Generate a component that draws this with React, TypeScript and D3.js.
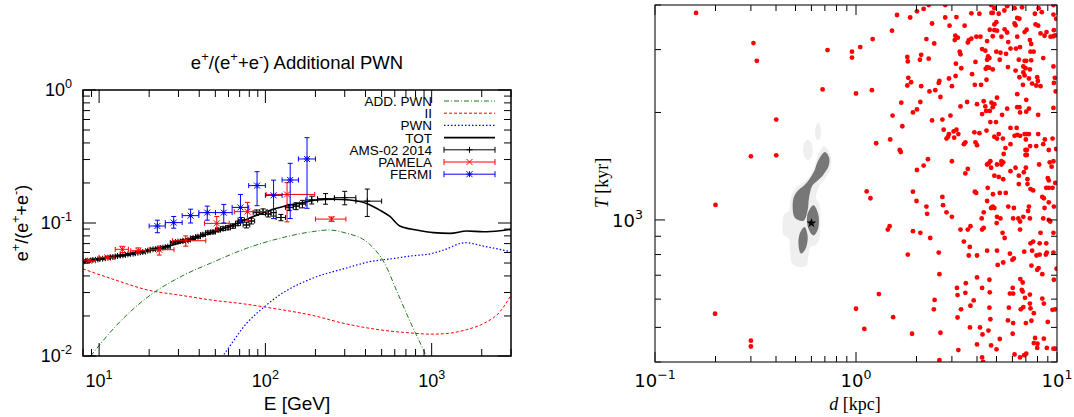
import React from "react";
import * as d3 from "d3";

// ---------------- left panel: e+/(e+ + e-) with an additional PWN ----------------
// model curves, [E (GeV), positron fraction]
const addPwnCurve = [[8.9,0.0100],[12.5,0.0166],[19.7,0.0279],[31,0.0395],[49,0.0511],[77,0.0645],[122,0.0767],[192,0.0861],[240,0.0886],[305,0.0840],[415,0.0708],[521,0.0498],[625,0.0296],[750,0.0176],[901,0.0108],[960,0.0090]];
const secondaryCurve = [[8,0.0452],[12.5,0.0373],[19.7,0.0313],[31,0.0286],[49,0.0262],[77,0.0245],[100,0.0233],[122,0.0224],[192,0.0202],[302,0.0175],[476,0.0158],[750,0.0149],[986,0.0146],[1183,0.0147],[1626,0.0158],[2042,0.0175],[2564,0.0214],[3000,0.0286]];
const pwnCurve = [[50,0.0085],[55.4,0.0100],[77.1,0.0176],[100,0.0238],[122,0.0288],[192,0.0384],[302,0.0456],[425,0.0512],[598,0.0542],[750,0.0565],[1000,0.0590],[1183,0.0627],[1592,0.0711],[2042,0.0671],[3000,0.0608]];
const totCurve = [[8,0.052],[10,0.0542],[16,0.0592],[25.3,0.0664],[40.2,0.0789],[63.8,0.0966],[101,0.1217],[128,0.133],[161,0.1406],[203,0.149],[256,0.151],[322,0.149],[420,0.138],[488,0.125],[561,0.112],[644,0.095],[812,0.0886],[1024,0.0846],[1290,0.0836],[1625,0.087],[2047,0.086],[2580,0.0875],[3000,0.0896]];

// AMS-02 2014: [E, fraction, error, Emin, Emax]
const ams02 = [
  [7.98,0.0512,0.0008,7.8,8.2],[8.55,0.0521,0.0008,8.3,8.8],[9.17,0.0527,0.0008,8.9,9.5],[9.83,0.0533,0.0008,9.5,10.1],
  [10.5,0.0539,0.0008,10.1,10.9],[11.3,0.0548,0.0008,10.9,11.7],[12.1,0.0555,0.0009,11.7,12.5],[12.9,0.0565,0.0009,12.5,13.4],
  [13.9,0.0571,0.0009,13.4,14.4],[14.9,0.0581,0.001,14.4,15.4],[16.0,0.0588,0.001,15.4,16.5],[17.1,0.0598,0.001,16.5,17.7],
  [18.3,0.0605,0.0011,17.7,19.0],[19.6,0.0619,0.0011,19.0,20.3],[21.1,0.0634,0.0012,20.3,21.8],[22.6,0.0641,0.0012,21.8,23.4],
  [24.2,0.0653,0.0013,23.4,25.0],[25.9,0.0664,0.0014,25.0,26.8],[27.8,0.0711,0.0015,26.8,28.8],[29.8,0.0724,0.0016,28.8,30.8],
  [31.9,0.0732,0.0017,30.8,33.0],[34.2,0.0745,0.0018,33.0,35.4],[36.7,0.0771,0.0019,35.4,38.0],[39.3,0.0789,0.002,38.0,40.7],
  [42.1,0.0817,0.0022,40.7,43.6],[45.1,0.0846,0.0024,43.6,46.7],[48.4,0.0856,0.0026,46.7,50.1],[51.9,0.0886,0.0028,50.1,53.7],
  [55.6,0.0907,0.003,53.7,57.6],[59.6,0.0922,0.0033,57.6,61.7],[63.8,0.0949,0.0036,61.7,66.1],[68.4,0.0994,0.004,66.1,70.8],
  [71.6,0.1054,0.0045,68.5,74.8],[76.9,0.0966,0.0048,73.5,80.5],[82.4,0.1035,0.0052,78.8,86.2],[88.3,0.1197,0.0055,84.4,92.4],
  [96.8,0.1217,0.006,92.4,101],[104,0.117,0.006,100,108],[112,0.1197,0.007,108,116],[124,0.110,0.006,116,132],
  [139,0.131,0.007,132,147],[153,0.134,0.008,147,160],[167,0.139,0.009,160,175],[190,0.149,0.010,175,206],
  [230,0.1524,0.014,206,260],[300,0.155,0.018,260,350],[410,0.146,0.034,350,500],
];
// PAMELA: [E, fraction, low, high, Emin, Emax]
const pamela = [
  [8.7,0.052,0.051,0.053,8.0,9.5],[11.2,0.0552,0.054,0.0565,10.0,12.3],[13.8,0.0634,0.060,0.0668,12.5,15.0],
  [17.2,0.0619,0.059,0.065,15.5,19.0],[23.0,0.063,0.0574,0.067,20.0,28.2],[33.2,0.0736,0.067,0.080,27.6,43.8],
  [51,0.0994,0.0886,0.112,43,60.6],[78,0.1217,0.104,0.143,65,103],[135,0.164,0.102,0.201,101,198],[250,0.107,0.103,0.111,200,305],
];
// FERMI: [E, fraction, low, high, Emin, Emax]
const fermi = [
  [22.4,0.0949,0.0845,0.105,20,25],[28.1,0.1007,0.0914,0.112,25,31.6],[35.5,0.1136,0.100,0.127,31.6,39.8],
  [44.7,0.1197,0.105,0.134,39.8,50.1],[56.2,0.1197,0.100,0.138,50.1,63.1],[70.8,0.131,0.100,0.164,63.1,79.4],
  [89.1,0.191,0.135,0.243,79.4,100],[112,0.1615,0.108,0.210,100,126],[141,0.2105,0.108,0.281,126,158],[178,0.303,0.129,0.438,158,200],
];
const legendLabels = ["ADD. PWN", "II", "PWN", "TOT", "AMS-02 2014", "PAMELA", "FERMI"];

// ---------------- right panel: pulsars, d [kpc] vs T [kyr] ----------------
const pulsars = [
  [0.16,3800],[0.309,3130],[0.321,2790],[0.722,2990],[0.955,2960],[0.955,2850],[1.05,3050],[0.682,2320],[1.00,2260],
  [0.401,1910],[0.300,1507],[0.401,1517],[0.200,1102],[1.13,1202],[0.199,546],[0.300,459],[0.300,442],[1.00,564],[1.10,495],
  [2.30,4000],[2.78,4000],[4.70,4000],[4.88,3920],[5.65,3970],[6.15,3920],[6.70,3940],[8.10,3920],[9.60,4000],
  [2.01,3840],[2.17,3900],[5.47,3860],[8.40,3820],[4.72,3800],[1.60,3750],[1.86,3690],[2.78,3690],[3.16,3700],[3.75,3790],
  [4.11,3780],[4.79,3800],[5.13,3780],[6.34,3680],[6.50,3660],[7.76,3780],[9.60,3760],[9.90,3660],
  [2.39,3550],[2.92,3500],[3.47,3500],[4.88,3530],[4.99,3580],[6.15,3550],[6.22,3510],[7.82,3530],[8.06,3500],
  [1.51,3390],[3.12,3280],[3.21,3240],[3.10,3190],[3.64,3190],[3.75,3220],[3.97,3260],[4.16,3260],[4.63,3410],[4.88,3400],
  [5.03,3390],[5.49,3420],[5.65,3350],[4.79,3270],[5.29,3260],[6.34,3260],[6.90,3360],[7.06,3410],[8.28,3330],[8.67,3280],
  [8.87,3360],[9.29,3260],[9.60,3270],[9.80,3290],[9.65,3400],
  [1.21,3210],[2.24,3210],[2.45,3120],[3.60,3140],[4.49,3170],[5.72,3150],[7.33,3190],[7.44,3110],
  [6.25,3020],[6.55,3050],[7.38,2960],[7.65,2960],[4.24,3010],[4.40,2980],[4.99,2960],[5.23,2940],[5.58,2920],[5.87,3020],
  [3.28,2960],[3.31,2910],[1.80,2860],[2.11,2900],[2.08,2810],[1.81,2780],[2.30,2830],[3.93,2770],[4.54,2870],[4.61,2840],
  [4.49,2810],[5.19,2810],[6.46,2810],[6.90,2790],[7.03,2790],[7.44,2800],[8.54,2840],
  [3.14,2740],[3.34,2660],[4.49,2680],[4.59,2670],[4.42,2650],[4.79,2640],[5.70,2680],[6.22,2620],[6.80,2690],[6.97,2660],
  [7.33,2640],[9.60,2690],
  [1.20,2310],[1.82,2500],[1.88,2430],[1.80,2380],[2.11,2370],[2.60,2450],[2.58,2420],[2.90,2490],[3.13,2530],[3.78,2560],
  [4.46,2470],[3.90,2390],[4.19,2390],[3.00,2370],[2.48,2310],[2.32,2290],[2.63,2210],
  [6.50,2510],[6.80,2590],[6.90,2540],[7.25,2490],[7.97,2510],[8.03,2450],[7.52,2410],[7.88,2380],[8.28,2370],[9.75,2500],
  [9.65,2420],[9.85,2290],[6.34,2250],[6.77,2390],
  [1.68,2130],[2.09,2140],[2.01,2040],[1.92,2000],[1.52,1960],[2.39,1900],[2.69,1910],[2.95,1960],[3.31,2080],[3.57,2140],
  [4.00,2110],[4.32,2150],[4.40,2080],[4.72,2130],[4.88,2110],[4.79,2070],[5.03,2200],[4.24,1980],[4.44,2020],[4.63,2020],
  [5.65,2050],[6.34,2070],[6.50,2070],[7.03,2170],[7.25,2050],[6.55,2000],[7.03,2010],[5.33,1970],[8.06,1970],[9.60,2060],
  [4.66,1880],[4.97,1880],
  [1.70,1830],[2.73,1790],[3.06,1770],[3.16,1790],[2.90,1740],[2.87,1710],[2.82,1690],[3.08,1700],[3.23,1740],[3.88,1760],
  [4.11,1750],[4.46,1780],[5.13,1740],[4.88,1710],[5.03,1690],[5.38,1690],[5.87,1810],[6.30,1810],[6.15,1720],[6.34,1730],
  [6.55,1720],[6.90,1740],[7.06,1740],[7.25,1740],[8.06,1740],[9.50,1690],[7.00,1680],[1.26,1640],[1.48,1680],[3.50,1650],
  [3.44,1630],[3.93,1650],[4.00,1620],[5.87,1630],[5.54,1590],[7.35,1610],[7.88,1610],[8.54,1630],[8.70,1680],[6.97,1570],
  [7.08,1570],[6.97,1520],[7.08,1520],[9.10,1570],[9.90,1580],[1.65,1570],[1.67,1550],[5.43,1530],[2.28,1480],[3.00,1460],
  [4.66,1460],[4.57,1440],[4.49,1430],[5.03,1430],[5.29,1460],[5.40,1450],[5.29,1430],[6.22,1400],[7.00,1400],[8.15,1430],
  [9.20,1450],[9.60,1460],[9.40,1410],[2.17,1420],[2.01,1380],[3.60,1390],[3.50,1350],[4.70,1400],[5.87,1370],[6.84,1360],
  [4.88,1330],[5.13,1320],[5.40,1300],[6.46,1330],[7.13,1300],[9.00,1310],[9.10,1290],[9.80,1270],[6.46,1260],[7.13,1260],
  [8.84,1230],[9.10,1230],[9.50,1230],[7.38,1220],[7.61,1210],[4.52,1230],[1.92,1200],[3.90,1200],[3.96,1190],[5.19,1190],
  [5.56,1190],[4.80,1180],[1.18,1150],[2.00,1130],[2.69,1160],[4.49,1130],[8.45,1160],[8.60,1150],[9.10,1120],[2.71,1100],
  [2.24,1090],[4.70,1080],[4.79,1090],[4.88,1080],[5.72,1090],[6.10,1080],[7.25,1090],[7.18,1060],[8.67,1080],[9.65,1090],
  [2.26,1040],[2.82,1050],[3.00,1020],[4.32,1050],[5.03,1020],[5.23,1010],[4.22,1010],[6.05,1010],[6.42,1010],[6.55,990],
  [6.80,1020],[7.33,1010],[8.54,1010],[9.10,1000],[9.25,990],[5.01,980],[1.47,960],[1.44,940],[1.92,930],[2.09,920],
  [2.34,890],[3.31,940],[3.60,940],[3.71,960],[4.24,940],[4.32,950],[5.36,920],[5.49,890],[6.55,940],[8.28,920],
  [9.60,920],[3.44,870],[7.61,870],[7.38,860],[8.20,860],[8.84,860],
  [3.68,840],[1.81,800],[2.58,810],[3.64,795],[4.00,795],[4.49,820],[5.03,820],[5.83,805],[6.00,773],[6.10,780],
  [6.87,815],[7.52,820],[7.91,795],[8.20,800],[8.80,800],[8.90,810],[9.60,810],[9.95,730],[5.07,748],[5.40,760],
  [7.46,745],[7.97,725],[8.10,733],[8.45,705],[2.60,705],[4.00,690],[9.65,680],[6.57,683],[6.75,668],[3.52,665],
  [3.18,645],[4.24,645],[4.61,680],[6.02,645],[1.30,620],[3.20,616],[3.50,625],[4.63,627],[5.83,622],[6.05,622],
  [6.68,637],[6.75,630],[6.93,605],[7.33,618],[8.45,602],[8.60,583],[2.46,597],[3.85,595],[2.44,562],[3.33,562],
  [3.71,575],[4.61,568],[5.76,568],[6.60,562],[6.80,570],[7.33,583],[7.38,565],[7.67,548],[9.50,560],[9.80,562],
  [1.53,534],[3.20,533],[4.66,527],[5.70,523],[6.05,514],[7.00,514],[7.46,522],[9.00,518],[1.90,480],[2.63,483],
  [3.69,500],[4.14,500],[4.56,490],[4.26,478],[6.02,480],[5.19,464],[7.78,467],[8.60,465],[7.67,452],[8.00,450],
  [4.00,448],[4.70,445],[7.97,438],[8.90,438],[9.60,436],[9.80,436],[3.23,432],[5.00,434],[6.15,420],[6.55,412],
  [6.87,418],[7.03,422],[4.24,412],[4.29,400],[2.60,405],
];
// likelihood regions, outlines as [d, T]
const contourLight = [
  [[0.695,1609],[0.745,1524],[0.745,1383],[0.695,1296],[0.655,1241],[0.632,1151],[0.655,1114],[0.665,1022],[0.655,878],[0.630,850],[0.595,841],[0.578,788],[0.568,747],[0.528,737],[0.482,755],[0.470,823],[0.462,888],[0.436,907],[0.432,989],[0.442,1044],[0.463,1056],[0.476,1163],[0.503,1228],[0.543,1268],[0.588,1324],[0.623,1413],[0.648,1524]],
  [[0.651,1879],[0.669,1793],[0.664,1699],[0.644,1673],[0.627,1735],[0.632,1832]],
  [[0.574,1680],[0.604,1627],[0.606,1524],[0.580,1469],[0.553,1507],[0.548,1609]],
];
const contourDark = [
  [[0.700,1550],[0.735,1495],[0.730,1413],[0.685,1335],[0.645,1290],[0.608,1250],[0.590,1189],[0.582,1138],[0.575,1067],[0.548,995],[0.496,1015],[0.484,1090],[0.490,1155],[0.512,1205],[0.553,1250],[0.586,1300],[0.620,1372],[0.648,1465]],
  [[0.615,1100],[0.648,1040],[0.648,945],[0.615,905],[0.580,945],[0.574,1040]],
  [[0.555,955],[0.575,897],[0.560,828],[0.532,805],[0.517,860],[0.527,920]],
];
const bestFit = [0.6, 980];

const SANS = "'Liberation Sans', Arial, Helvetica, sans-serif";
const DEJAVU = "'DejaVu Sans', sans-serif";
const SERIF = "'Liberation Serif', 'DejaVu Serif', serif";

function Rich({ x, y, parts, size, anchor = "middle", transform = undefined, family = SANS }) {
  let up = false;
  return (
    <text x={x} y={y} fontSize={size} textAnchor={anchor} transform={transform} fontFamily={family} fill="#000">
      {parts.map(([t, sup], i) => {
        let dy = 0;
        if (sup && !up) { dy = -0.42 * size; up = true; }
        else if (!sup && up) { dy = 0.42 * size; up = false; }
        return <tspan key={i} dy={dy} fontSize={sup ? size * 0.7 : size}>{t}</tspan>;
      })}
    </text>
  );
}

function logTicks(lo, hi) {
  const out = [];
  for (let p = -3; p <= 4; p++) {
    for (let k = 1; k <= 9; k++) {
      const v = k * Math.pow(10, p);
      if (v >= lo * 0.999 && v <= hi * 1.001) out.push({ v, major: k === 1 });
    }
  }
  return out;
}

function Marker({ x, y, kind, color, s = 3 }) {
  const segs = [];
  if (kind === "+" || kind === "*") segs.push([x - s, y, x + s, y], [x, y - s, x, y + s]);
  if (kind === "x" || kind === "*") segs.push([x - s, y - s, x + s, y + s], [x - s, y + s, x + s, y - s]);
  return <g>{segs.map((l, i) => <line key={i} x1={l[0]} y1={l[1]} x2={l[2]} y2={l[3]} stroke={color} strokeWidth={1} />)}</g>;
}

function ErrorPoints({ rows, color, kind, xs, ys }) {
  const c = 2.5;
  return (
    <g stroke={color} strokeWidth={1} fill="none">
      {rows.map((r, i) => {
        const x = xs(r.e), y = ys(r.v), yl = ys(r.lo), yh = ys(r.hi), xl = xs(r.eLo), xh = xs(r.eHi);
        return (
          <g key={i}>
            <line x1={x} y1={yl} x2={x} y2={yh} />
            <line x1={x - c} y1={yl} x2={x + c} y2={yl} />
            <line x1={x - c} y1={yh} x2={x + c} y2={yh} />
            <line x1={xl} y1={y} x2={xh} y2={y} />
            <line x1={xl} y1={y - c} x2={xl} y2={y + c} />
            <line x1={xh} y1={y - c} x2={xh} y2={y + c} />
            <Marker x={x} y={y} kind={kind} color={color} />
          </g>
        );
      })}
    </g>
  );
}

export default function App() {
  // left panel scales
  const xL = d3.scaleLog().domain([8, 3000]).range([83, 511]);
  const yL = d3.scaleLog().domain([0.01, 1]).range([356, 90]);
  const curve = d3.line().x((d) => xL(d[0])).y((d) => yL(d[1])).curve(d3.curveMonotoneX);

  const amsRows = ams02.map((r) => ({ e: r[0], v: r[1], lo: r[1] - r[2], hi: r[1] + r[2], eLo: r[3], eHi: r[4] }));
  const pamRows = pamela.map((r) => ({ e: r[0], v: r[1], lo: r[2], hi: r[3], eLo: r[4], eHi: r[5] }));
  const ferRows = fermi.map((r) => ({ e: r[0], v: r[1], lo: r[2], hi: r[3], eLo: r[4], eHi: r[5] }));

  const xTicksL = logTicks(8, 3000);
  const yTicksL = logTicks(0.01, 1);

  // right panel scales
  const xR = d3.scaleLog().domain([0.1, 10]).range([655, 1057]);
  const yR = d3.scaleLog().domain([400, 4000]).range([362, 5]);
  const blob = d3.line().x((d) => xR(d[0])).y((d) => yR(d[1])).curve(d3.curveCatmullRomClosed.alpha(0.5));
  const xTicksR = logTicks(0.1, 10);
  const yTicksR = logTicks(400, 4000);

  const legY = (i) => 101 + i * 12.2;
  const legendStyle = [
    { color: "#1e7b1e", dash: "5,2,1,2", w: 1 },
    { color: "#ff0000", dash: "3,2", w: 1 },
    { color: "#0000ff", dash: "1.5,2", w: 1.2 },
    { color: "#000", dash: null, w: 1.6 },
    { color: "#000", err: "+" },
    { color: "#ff0000", err: "x" },
    { color: "#0000ff", err: "*" },
  ];

  return (
    <svg width={1074} height={417} style={{ position: "absolute", left: 0, top: 0, background: "#fff" }}>
      <defs>
        <clipPath id="clipL"><rect x={83} y={90} width={428} height={266} /></clipPath>
        <clipPath id="clipR"><rect x={655} y={5} width={402} height={357} /></clipPath>
      </defs>
      <rect x={0} y={0} width={1074} height={417} fill="#fff" />

      {/* ---------- left panel ---------- */}
      <Rich x={297} y={69} size={18.5}
        parts={[["e", false], ["+", true], ["/(e", false], ["+", true], ["+e", false], ["-", true], [") Additional PWN", false]]} />
      <g clipPath="url(#clipL)" fill="none">
        <path d={curve(secondaryCurve)} stroke="#ff0000" strokeWidth={1} strokeDasharray="3,2" />
        <path d={curve(addPwnCurve)} stroke="#1e7b1e" strokeWidth={1} strokeDasharray="5,2,1,2" />
        <path d={curve(pwnCurve)} stroke="#0000ff" strokeWidth={1.2} strokeDasharray="1.5,2" />
        <path d={curve(totCurve)} stroke="#000" strokeWidth={1.6} />
        <ErrorPoints rows={amsRows} color="#000" kind="+" xs={xL} ys={yL} />
        <ErrorPoints rows={pamRows} color="#ff0000" kind="x" xs={xL} ys={yL} />
        <ErrorPoints rows={ferRows} color="#0000ff" kind="*" xs={xL} ys={yL} />
      </g>
      <g stroke="#000" strokeWidth={1}>
        {xTicksL.map((t, i) => {
          const x = xL(t.v), len = t.major ? 13 : 7;
          return (
            <g key={i}>
              <line x1={x} y1={356} x2={x} y2={356 - len} />
              <line x1={x} y1={90} x2={x} y2={90 + len} />
            </g>
          );
        })}
        {yTicksL.map((t, i) => {
          const y = yL(t.v), len = t.major ? 13 : 7;
          return (
            <g key={i}>
              <line x1={83} y1={y} x2={83 + len} y2={y} />
              <line x1={511} y1={y} x2={511 - len} y2={y} />
            </g>
          );
        })}
      </g>
      <rect x={83} y={90} width={428} height={266} fill="none" stroke="#000" strokeWidth={1.5} />
      {[10, 100, 1000].map((v) => (
        <Rich key={v} x={xL(v)} y={387} size={18} parts={[["10", false], [String(Math.log10(v)), true]]} />
      ))}
      {[0.01, 0.1, 1].map((v) => (
        <Rich key={v} x={72} y={yL(v) + 6} size={18} anchor="end" parts={[["10", false], [String(Math.round(Math.log10(v))), true]]} />
      ))}
      <text x={297} y={410} fontSize={19} fontFamily={SANS} textAnchor="middle">E [GeV]</text>
      <Rich x={0} y={0} size={18} transform="translate(28,223) rotate(-90)"
        parts={[["e", false], ["+", true], ["/(e", false], ["+", true], ["+e", false], ["-", true], [")", false]]} />

      {/* legend */}
      {legendLabels.map((lab, i) => {
        const y = legY(i), st = legendStyle[i];
        return (
          <g key={lab}>
            <text x={432} y={y + 5} fontSize={13.5} fontFamily={SANS} textAnchor="end">{lab}</text>
            {st.err ? (
              <g stroke={st.color} strokeWidth={1}>
                <line x1={444} y1={y} x2={495} y2={y} />
                <line x1={444} y1={y - 3} x2={444} y2={y + 3} />
                <line x1={495} y1={y - 3} x2={495} y2={y + 3} />
                <Marker x={469.5} y={y} kind={st.err} color={st.color} />
              </g>
            ) : (
              <line x1={444} y1={y} x2={495} y2={y} stroke={st.color} strokeWidth={st.w} strokeDasharray={st.dash || undefined} />
            )}
          </g>
        );
      })}

      {/* ---------- right panel ---------- */}
      <g clipPath="url(#clipR)">
        {contourLight.map((c, i) => <path key={"l" + i} d={blob(c)} fill="#efefef" stroke="none" />)}
        {contourDark.map((c, i) => <path key={"d" + i} d={blob(c)} fill="#777777" stroke="none" />)}
        {pulsars.map((p, i) => <circle key={i} cx={xR(p[0])} cy={yR(p[1])} r={2.4} fill="#ff0000" />)}
        <path d={d3.symbol(d3.symbolStar, 30)()} transform={`translate(${xR(bestFit[0])},${yR(bestFit[1])})`} fill="#000" />
      </g>
      <g stroke="#000" strokeWidth={1}>
        {xTicksR.map((t, i) => {
          const x = xR(t.v), len = t.major ? 10 : 6;
          return (
            <g key={i}>
              <line x1={x} y1={362} x2={x} y2={362 - len} />
              <line x1={x} y1={5} x2={x} y2={5 + len} />
            </g>
          );
        })}
        {yTicksR.map((t, i) => {
          const y = yR(t.v), len = t.major ? 10 : 6;
          return (
            <g key={i}>
              <line x1={655} y1={y} x2={655 + len} y2={y} />
              <line x1={1057} y1={y} x2={1057 - len} y2={y} />
            </g>
          );
        })}
      </g>
      <rect x={655} y={5} width={402} height={357} fill="none" stroke="#222" strokeWidth={1.2} />
      {[0.1, 1, 10].map((v) => (
        <Rich key={v} x={xR(v)} y={387} size={18} family={DEJAVU}
          parts={[["10", false], [String(Math.round(Math.log10(v))).replace("-", "\u2212"), true]]} />
      ))}
      <Rich x={643} y={227} size={18} anchor="end" family={DEJAVU} parts={[["10", false], ["3", true]]} />
      <text x={855} y={410} fontSize={18} fontFamily={SERIF} textAnchor="middle">
        <tspan fontStyle="italic">d</tspan> [kpc]
      </text>
      <text transform="translate(608,183) rotate(-90)" fontSize={18} fontFamily={SERIF} textAnchor="middle">
        <tspan fontStyle="italic">T</tspan> [kyr]
      </text>
    </svg>
  );
}
